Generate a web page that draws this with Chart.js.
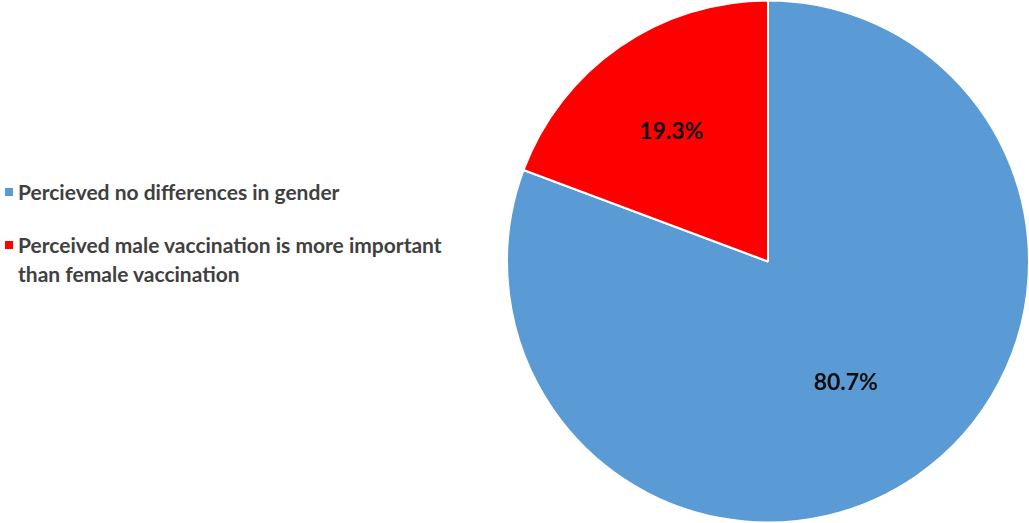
<!DOCTYPE html>
<html>
<head>
<meta charset="utf-8">
<script src="https://cdn.jsdelivr.net/npm/chart.js@4/dist/chart.umd.min.js"></script>
<style>
  body { margin: 0; background: #fff; width: 1029px; height: 523px; overflow: hidden; position: relative; }
  #legend { position: absolute; left: 4px; top: 177px; font-family: Lato, "Open Sans", sans-serif; font-weight: bold; font-size: 21px; color: #404040; line-height: 29px; }
  .item { position: relative; padding-left: 14px; margin-bottom: 24px; }
  .item .box { position: absolute; left: 1px; top: 11px; width: 8px; height: 8px; }
  #wrap { position: absolute; left: 506px; top: -1px; width: 524px; height: 525px; }
</style>
</head>
<body>
<div id="legend"></div>
<div id="wrap"><canvas id="pie"></canvas></div>
<script>
// data
const labels = ['Percieved no differences in gender', 'Perceived male vaccination is more important than female vaccination'];
const legendLines = [['Percieved no differences in gender'], ['Perceived male vaccination is more important', 'than female vaccination']];
const values = [80.7, 19.3];
const colors = ['#5B9BD5', '#FF0000'];

// html legend so the long label wraps like the original
const legend = document.getElementById('legend');
labels.forEach((lab, i) => {
  let div = document.createElement('div');
  div.className = 'item';
  div.innerHTML = '<span class="box" style="background:' + colors[i] + '"></span>' + legendLines[i].join('<br>');
  legend.appendChild(div);
});

// draws the percent text inside each slice
const radiusFactor = [0.55, 0.62];
const sliceLabels = {
  id: 'sliceLabels',
  afterDatasetsDraw(chart) {
    const ctx = chart.ctx;
    const meta = chart.getDatasetMeta(0);
    ctx.save();
    ctx.font = 'bold 23px Lato, "Open Sans", sans-serif';
    ctx.fillStyle = '#0d0d0d';
    ctx.textAlign = 'center';
    ctx.textBaseline = 'middle';
    meta.data.forEach((arc, i) => {
      const p = arc.getProps(['x', 'y', 'startAngle', 'endAngle', 'outerRadius'], true);
      const mid = (p.startAngle + p.endAngle) / 2;
      const r = p.outerRadius * radiusFactor[i];
      ctx.fillText(values[i].toFixed(1) + '%', p.x + Math.cos(mid) * r - 4, p.y + Math.sin(mid) * r + 3);
    });
    ctx.restore();
  }
};

new Chart(document.getElementById('pie'), {
  type: 'pie',
  data: {
    labels: labels,
    datasets: [{
      data: values,
      backgroundColor: colors,
      borderColor: '#fff',
      borderWidth: 2
    }]
  },
  options: {
    responsive: true,
    maintainAspectRatio: false,
    animation: false,
    layout: { padding: 0 },
    plugins: {
      legend: { display: false },
      tooltip: { enabled: false }
    }
  },
  plugins: [sliceLabels]
});
</script>
</body>
</html>
